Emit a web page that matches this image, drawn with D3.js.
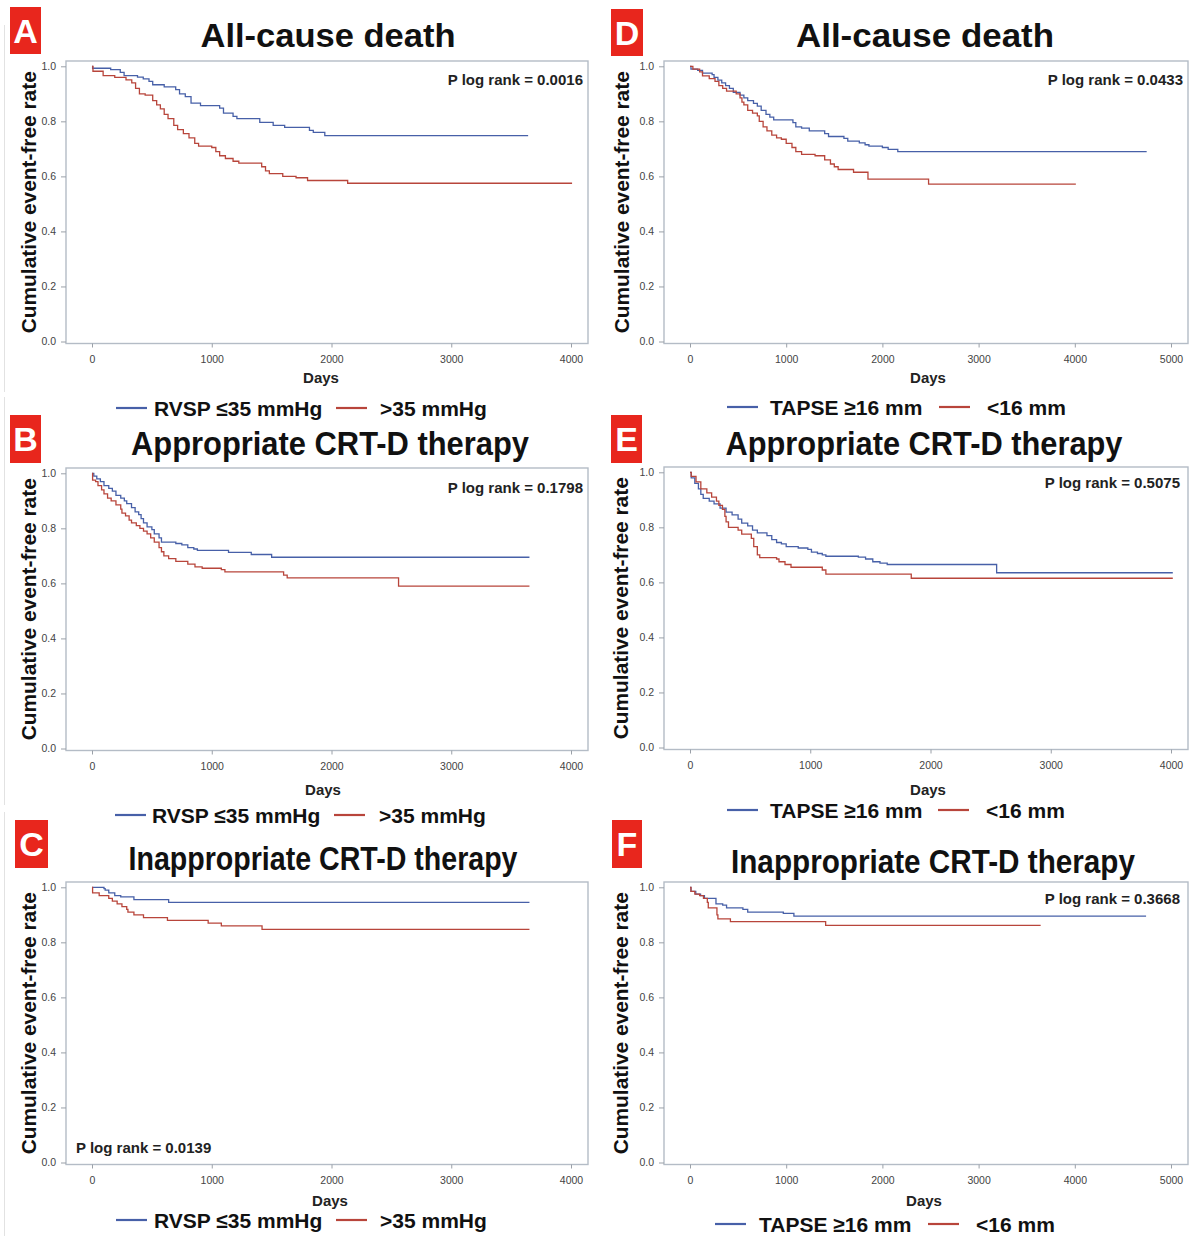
<!DOCTYPE html>
<html>
<head>
  <meta charset="utf-8">
  <title>Kaplan-Meier curves</title>
  <script src="https://d3js.org/d3.v7.min.js"></script>
  <style>
  body { margin: 0; background: white; }
  text { font-family: "Liberation Sans", Arial, Helvetica, sans-serif; }
  .tick text { font-size: 10.5px; fill: #444; }
  .tick line { stroke: #9aa0a8; }
  .domain { display: none; }
  .frame { fill: none; stroke: #b4bcc6; stroke-width: 1.4px; }
  .km { fill: none; stroke-width: 1.3px; }
  .title { font-size: 33px; font-weight: bold; fill: #111; }
  .ylab { font-size: 21px; font-weight: bold; fill: #111; }
  .xlab { font-size: 15px; font-weight: bold; fill: #222; }
  .pval { font-size: 15px; font-weight: bold; fill: #222; }
  .leg { font-size: 21px; font-weight: bold; fill: #111; }
  .letter { font-size: 34px; font-weight: bold; fill: white; }
  </style>
</head>
<body>
<script>

// [days, event-free rate]
var deathRvspLow = [[0,1],[5,.993],[156,.988],[236,.978],[268,.966],[380,.961],[428,.954],[476,.945],[507,.933],
  [603,.925],[699,.915],[731,.9],[779,.89],[827,.866],[906,.857],[1066,.848],[1098,.83],[1178,.818],[1210,.81],
  [1401,.796],[1513,.785],[1609,.778],[1816,.767],[1848,.76],[1944,.748],[3642,.748]]
var deathRvspHigh = [[0,1],[8,.982],[93,.966],[190,.96],[284,.951],[332,.94],[364,.92],[396,.9],[444,.895],
  [507,.875],[540,.86],[571,.845],[603,.825],[635,.81],[683,.785],[715,.77],[763,.755],[810,.74],[858,.72],
  [890,.71],[1000,.705],[1034,.69],[1066,.675],[1114,.665],[1178,.655],[1226,.648],[1417,.635],[1449,.62],
  [1481,.61],[1593,.6],[1704,.595],[1800,.585],[2135,.575],[4009,.575]]

var apprRvspLow = [[0,1],[15,.99],[40,.98],[70,.97],[100,.955],[140,.945],[170,.935],[200,.92],[240,.91],
  [270,.9],[290,.89],[330,.875],[360,.86],[390,.85],[410,.835],[430,.82],[460,.805],[500,.795],[520,.78],
  [560,.765],[580,.75],[700,.745],[750,.74],[800,.73],[850,.725],[880,.72],[1140,.713],[1330,.705],
  [1500,.695],[3653,.695]]
var apprRvspHigh = [[0,1],[5,.975],[30,.97],[50,.955],[80,.94],[100,.925],[130,.91],[160,.9],[200,.885],
  [240,.87],[250,.855],[280,.845],[310,.83],[330,.82],[370,.81],[400,.8],[430,.79],[460,.78],[490,.765],
  [520,.75],[560,.73],[580,.715],[600,.7],[640,.69],[700,.68],[800,.67],[860,.66],[920,.655],[1080,.65],
  [1110,.642],[1600,.63],[1630,.62],[2560,.59],[3653,.59]]

var inapRvspLow = [[0,1],[100,.995],[110,.99],[140,.98],[190,.97],[240,.965],[350,.955],[640,.945],[3653,.945]]
var inapRvspHigh = [[0,1],[5,.98],[60,.97],[140,.96],[170,.95],[210,.94],[250,.93],[290,.92],[300,.91],
  [350,.9],[430,.89],[630,.88],[970,.87],[1080,.86],[1420,.847],[3653,.847]]

var deathTapseHigh = [[0,1],[10,.99],[80,.985],[130,.975],[230,.97],[250,.96],[290,.95],[330,.94],[370,.93],
  [410,.92],[450,.905],[520,.895],[560,.885],[600,.875],[660,.865],[700,.855],[740,.84],[790,.825],
  [830,.815],[870,.805],[1070,.795],[1100,.78],[1160,.775],[1240,.765],[1400,.755],[1440,.745],[1600,.738],
  [1640,.728],[1760,.722],[1820,.715],[1860,.71],[2000,.705],[2060,.698],[2160,.69],[4747,.69]]
var deathTapseLow = [[0,1],[30,.99],[100,.98],[130,.965],[200,.955],[260,.945],[300,.93],[340,.92],[380,.91],
  [480,.9],[520,.885],[540,.87],[560,.86],[600,.84],[650,.83],[700,.82],[720,.8],[760,.78],[800,.765],
  [850,.75],[900,.74],[950,.735],[1000,.72],[1060,.705],[1100,.69],[1160,.68],[1300,.675],[1400,.66],
  [1460,.645],[1500,.635],[1540,.625],[1700,.615],[1850,.59],[2480,.572],[4011,.572]]

var apprTapseHigh = [[0,1],[10,.98],[40,.96],[70,.94],[90,.92],[110,.905],[160,.895],[200,.885],[250,.87],
  [300,.855],[350,.845],[400,.83],[430,.815],[480,.805],[520,.79],[560,.78],[640,.77],[680,.755],[720,.745],
  [760,.74],[800,.73],[900,.725],[980,.72],[1010,.71],[1060,.705],[1100,.7],[1130,.695],[1400,.692],
  [1460,.685],[1520,.675],[1580,.67],[1640,.665],[2550,.635],[4015,.635]]
var apprTapseLow = [[0,1],[10,.985],[50,.965],[90,.94],[140,.925],[180,.91],[220,.895],[240,.88],[270,.865],
  [290,.84],[300,.82],[320,.8],[400,.79],[430,.775],[510,.76],[530,.73],[560,.7],[580,.69],[720,.685],
  [740,.675],[790,.665],[840,.655],[1100,.645],[1130,.63],[1840,.615],[4015,.615]]

var inapTapseHigh = [[0,1],[10,.985],[60,.975],[110,.97],[150,.96],[270,.94],[340,.935],[380,.925],[550,.92],
  [600,.91],[970,.905],[1080,.895],[4741,.895]]
var inapTapseLow = [[0,1],[10,.985],[50,.975],[100,.97],[140,.96],[180,.945],[190,.925],[280,.9],[290,.885],
  [420,.875],[1410,.862],[3645,.862]]

var yTicks = [0, 0.2, 0.4, 0.6, 0.8, 1.0]
var xTicks4 = [0, 1000, 2000, 3000, 4000]
var xTicks5 = [0, 1000, 2000, 3000, 4000, 5000]
var rvspLabels = ['RVSP \u226435 mmHg', '>35 mmHg']
var tapseLabels = ['TAPSE \u226516 mm', '<16 mm']

const blue = '#4760a8'
const red = '#b8453b'

// layout of each panel (pixels)
var panels = [
  {id: 'A', title: 'All-cause death', tw: 255, tx: 328, ty: 47, box: [10, 7, 31, 47],
   fx: 66, fy: 61, fx1: 588, data: [deathRvspLow, deathRvspHigh], xTicks: xTicks4,
   p: 'P log rank = 0.0016', px: 583, py: 85, pAnchor: 'end', ylx: 36, dx: 321, dy: 383,
   labels: rvspLabels, leg: [116, 154, 336, 380], ly: 408},
  {id: 'B', title: 'Appropriate CRT-D therapy', tw: 398, tx: 330, ty: 455, box: [10, 415, 31, 48],
   fx: 66, fy: 468, fx1: 588, data: [apprRvspLow, apprRvspHigh], xTicks: xTicks4,
   p: 'P log rank = 0.1798', px: 583, py: 493, pAnchor: 'end', ylx: 36, dx: 323, dy: 795,
   labels: rvspLabels, leg: [115, 152, 334, 379], ly: 815},
  {id: 'C', title: 'Inappropriate CRT-D therapy', tw: 389, tx: 323, ty: 870, box: [15, 820, 33, 48],
   fx: 66, fy: 882, fx1: 588, data: [inapRvspLow, inapRvspHigh], xTicks: xTicks4,
   p: 'P log rank = 0.0139', px: 76, py: 1153, pAnchor: 'start', ylx: 36, dx: 330, dy: 1206,
   labels: rvspLabels, leg: [116, 154, 336, 380], ly: 1220},
  {id: 'D', title: 'All-cause death', tw: 258, tx: 925, ty: 47, box: [611, 9, 32, 47],
   fx: 664, fy: 61, fx1: 1188, data: [deathTapseHigh, deathTapseLow], xTicks: xTicks5,
   p: 'P log rank = 0.0433', px: 1183, py: 85, pAnchor: 'end', ylx: 629, dx: 928, dy: 383,
   labels: tapseLabels, leg: [727, 770, 939, 987], ly: 407},
  {id: 'E', title: 'Appropriate CRT-D therapy', tw: 397, tx: 924, ty: 455, box: [611, 415, 31, 48],
   fx: 664, fy: 467, fx1: 1188, data: [apprTapseHigh, apprTapseLow], xTicks: xTicks4,
   p: 'P log rank = 0.5075', px: 1180, py: 488, pAnchor: 'end', ylx: 628, dx: 928, dy: 795,
   labels: tapseLabels, leg: [727, 770, 938, 986], ly: 810},
  {id: 'F', title: 'Inappropriate CRT-D therapy', tw: 404, tx: 933, ty: 873, box: [612, 820, 30, 48],
   fx: 664, fy: 882, fx1: 1188, data: [inapTapseHigh, inapTapseLow], xTicks: xTicks5,
   p: 'P log rank = 0.3668', px: 1180, py: 904, pAnchor: 'end', ylx: 628, dx: 924, dy: 1206,
   labels: tapseLabels, leg: [715, 759, 928, 976], ly: 1224}
]

var svg = d3.select('body')
  .append('svg')
  .attr('width', 1191)
  .attr('height', 1236)

// faint page edge lines
;[[25, 392], [397, 805], [812, 1236]].forEach(s => {
  svg.append('line').attr('x1', 4.5).attr('x2', 4.5).attr('y1', s[0]).attr('y2', s[1])
    .style('stroke', '#e2e2e2').style('stroke-width', 1)
})

panels.forEach(p => {
  var g = svg.append('g')
  var xMax = p.xTicks[p.xTicks.length - 1]
  var fy1 = p.fy + 282.5

  var x = d3.scaleLinear()
    .domain([0, xMax])
    .range([p.fx + 26, p.fx1 - 17])
  var y = d3.scaleLinear()
    .domain([0, 1])
    .range([p.fy + 280.5, p.fy + 5.3])

  g.append('rect')
    .attr('class', 'frame')
    .attr('x', p.fx).attr('y', p.fy)
    .attr('width', p.fx1 - p.fx).attr('height', fy1 - p.fy)

  g.append('g')
    .attr('transform', 'translate(' + p.fx + ',0)')
    .call(d3.axisLeft(y).tickValues(yTicks).tickFormat(d3.format('.1f')).tickSize(5).tickPadding(5))

  g.append('g')
    .attr('transform', 'translate(0,' + fy1 + ')')
    .call(d3.axisBottom(x).tickValues(p.xTicks).tickFormat(d3.format('d')).tickSize(4).tickPadding(8))

  g.selectAll('.tick text').style('font-family', '"Liberation Sans", Arial, sans-serif')

  var line = d3.line()
    .x(d => x(d[0]))
    .y(d => y(d[1]))
    .curve(d3.curveStepAfter)

  p.data.forEach((s, i) => {
    g.append('path')
      .datum(s)
      .attr('class', 'km')
      .style('stroke', i === 0 ? blue : red)
      .attr('d', line)
  })

  // panel letter
  g.append('rect')
    .attr('x', p.box[0]).attr('y', p.box[1])
    .attr('width', p.box[2]).attr('height', p.box[3])
    .style('fill', '#e8261d')
  g.append('text')
    .attr('class', 'letter')
    .attr('x', p.box[0] + p.box[2] / 2)
    .attr('y', p.box[1] + p.box[3] / 2 + 12)
    .attr('text-anchor', 'middle')
    .text(p.id)

  g.append('text')
    .attr('class', 'title')
    .attr('x', p.tx).attr('y', p.ty)
    .attr('text-anchor', 'middle')
    .attr('textLength', p.tw)
    .attr('lengthAdjust', 'spacingAndGlyphs')
    .text(p.title)

  g.append('text')
    .attr('class', 'ylab')
    .attr('transform', 'translate(' + p.ylx + ',' + ((p.fy + fy1) / 2) + ') rotate(-90)')
    .attr('text-anchor', 'middle')
    .attr('textLength', 262)
    .attr('lengthAdjust', 'spacingAndGlyphs')
    .text('Cumulative event-free rate')

  g.append('text')
    .attr('class', 'xlab')
    .attr('x', p.dx).attr('y', p.dy)
    .attr('text-anchor', 'middle')
    .text('Days')

  g.append('text')
    .attr('class', 'pval')
    .attr('x', p.px).attr('y', p.py)
    .attr('text-anchor', p.pAnchor)
    .text(p.p)

  // legend
  ;[0, 1].forEach(i => {
    var lx = p.leg[i * 2]
    g.append('line')
      .attr('x1', lx).attr('x2', lx + 31)
      .attr('y1', p.ly).attr('y2', p.ly)
      .style('stroke', i === 0 ? blue : red)
      .style('stroke-width', 2.2)
    g.append('text')
      .attr('class', 'leg')
      .attr('x', p.leg[i * 2 + 1]).attr('y', p.ly + 8)
      .text(p.labels[i])
  })
})

</script>
</body>
</html>
